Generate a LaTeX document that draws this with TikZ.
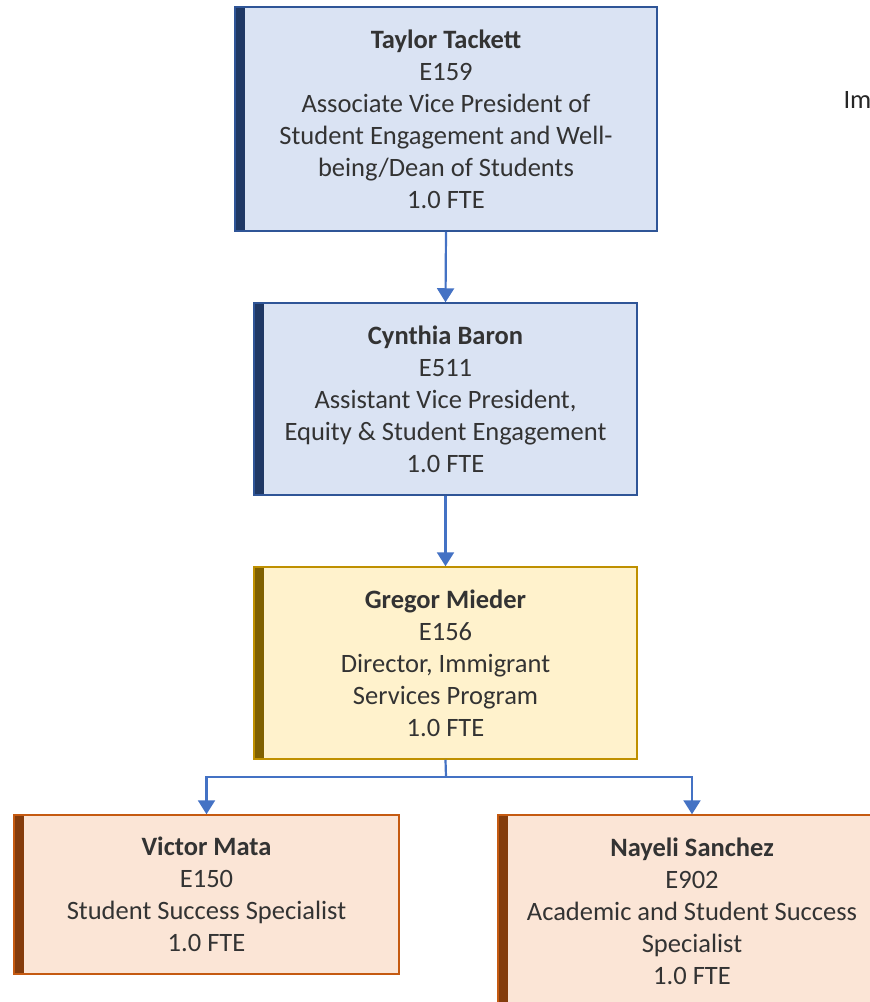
\documentclass[tikz,border=0pt]{standalone}
\usepackage{fontspec}
\setmainfont{Carlito}
\usetikzlibrary{arrows.meta}

\definecolor{bluefill}{HTML}{DAE3F3}
\definecolor{blueline}{HTML}{2F5597}
\definecolor{bluebar}{HTML}{1F3864}
\definecolor{goldfill}{HTML}{FFF2CC}
\definecolor{goldline}{HTML}{BF9000}
\definecolor{goldbar}{HTML}{7F6000}
\definecolor{rustfill}{HTML}{FBE5D6}
\definecolor{rustline}{HTML}{C55A11}
\definecolor{rustbar}{HTML}{843C0C}
\definecolor{linkblue}{HTML}{4472C4}

\tikzset{
  person/.style n args={3}{draw=#1, fill=#2, line width=1.5pt, rectangle,
    align=center, inner sep=0pt, text=black!80,
    font=\fontsize{26.5}{32}\selectfont,
    path picture={\fill[#3] (path picture bounding box.south west)
      rectangle ([xshift=10pt]path picture bounding box.north west);}},
  bluebox/.style={person={blueline}{bluefill}{bluebar}},
  goldbox/.style={person={goldline}{goldfill}{goldbar}},
  rustbox/.style={person={rustline}{rustfill}{rustbar}},
  link/.style={draw=linkblue, line width=2.2pt},
  linkarrow/.style={link, -{Triangle[width=17pt,length=14pt]}}
}

\begin{document}
\begin{tikzpicture}[x=1pt,y=-1pt]
		%%%%% START %%%%%
		
		\clip (0,0) rectangle (870,1002);
		
		\node[bluebox, minimum width=422pt, minimum height=224pt] (taylor) at (446, 119)
		  {\textbf{Taylor Tackett}\\E159\\Associate Vice President of\\Student Engagement and Well-\\being/Dean of Students\\1.0 FTE};
		
		\node[bluebox, minimum width=383pt, minimum height=192pt] (cynthia) at (445.5, 399)
		  {\textbf{Cynthia Baron}\\E511\\Assistant Vice President,\\Equity \& Student Engagement\\1.0 FTE};
		
		\node[goldbox, minimum width=383pt, minimum height=192pt] (gregor) at (445.5, 663)
		  {\textbf{Gregor Mieder}\\E156\\Director, Immigrant\\Services Program\\1.0 FTE};
		
		\node[rustbox, minimum width=385pt, minimum height=159pt] (victor) at (206.5, 894.5)
		  {\textbf{Victor Mata}\\E150\\Student Success Specialist\\1.0 FTE};
		
		\node[rustbox, minimum width=388pt, minimum height=193pt] (nayeli) at (692, 911.5)
		  {\textbf{Nayeli Sanchez}\\E902\\Academic and Student Success\\Specialist\\1.0 FTE};
		
		\node[anchor=west, font=\fontsize{26.5}{32}\selectfont, text=black!85] (title) at (840, 100) {Im};
		
		% reporting lines
		\draw[linkarrow] (taylor.south) -- (cynthia.north);
		\draw[linkarrow] (cynthia.south) -- (gregor.north);
		\coordinate (split) at (446, 777);
		\draw[link] (gregor.south) -- (split);
		\draw[linkarrow] (split) -| (victor.north);
		\draw[linkarrow] (split) -| (nayeli.north);
		
		%%%%% END %%%%%
	\end{tikzpicture}
\end{document}
